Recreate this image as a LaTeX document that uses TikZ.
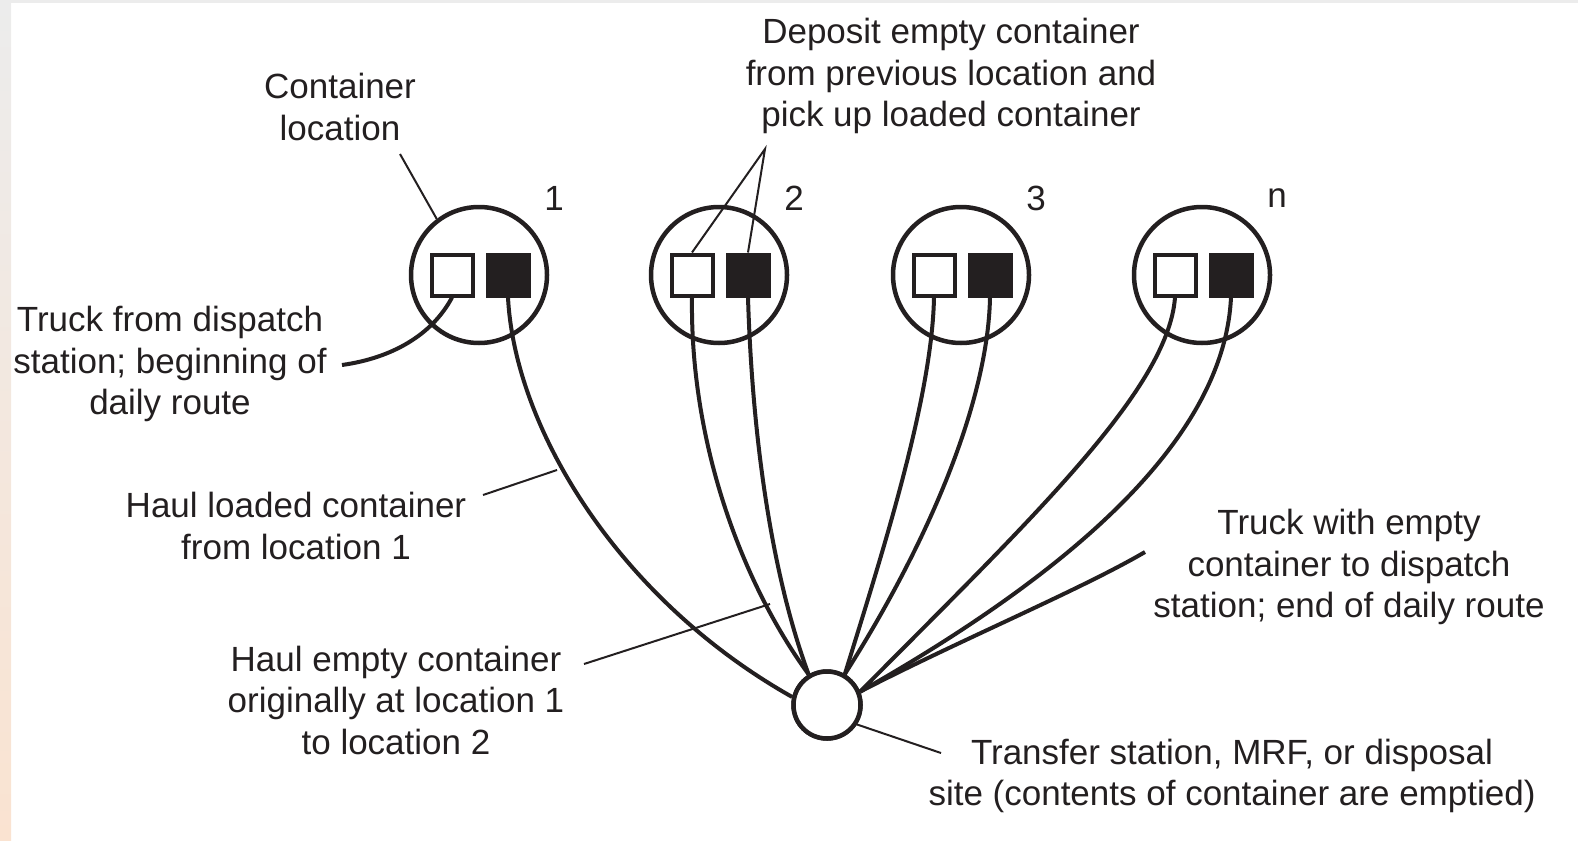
\documentclass[tikz,border=0pt]{standalone}
\usepackage{fontspec}
\setmainfont{Liberation Sans}
\definecolor{ink}{HTML}{231F20}
\definecolor{edgetop}{HTML}{ECECEC}
\definecolor{edgebot}{HTML}{FAE3D1}
\tikzset{
  lbl/.style={font=\fontsize{35}{41.5}\selectfont, align=center, inner sep=0pt, text=ink},
  loc/.style={circle, draw=ink, line width=4.5pt, minimum size=136pt, inner sep=0pt},
  site/.style={circle, draw=ink, fill=white, line width=4.5pt, minimum size=67pt, inner sep=0pt},
  emptybox/.style={rectangle, draw=ink, fill=white, line width=4pt, minimum size=41pt, inner sep=0pt},
  fullbox/.style={rectangle, draw=ink, fill=ink, line width=4pt, minimum size=41pt, inner sep=0pt},
  route/.style={draw=ink, line width=4pt},
  lead/.style={draw=ink, line width=2pt},
}
\begin{document}
\begin{tikzpicture}[x=1pt, y=-1pt]
\useasboundingbox (0,0) rectangle (1578,840);
% page edge tint
\shade[top color=edgetop, bottom color=edgebot] (0,0) rectangle (11,840);
\fill[edgetop] (0,0) rectangle (1578,3);

% container locations 1, 2, 3, n
\foreach \i/\x/\lab in {1/479/1, 2/719/2, 3/961/3, 4/1202/n} {
  \node[loc] (c\i) at (\x,275) {};
  \node[emptybox] (w\i) at (\x-27,275) {};
  \node[fullbox] (b\i) at (\x+29,275) {};
  \node[lbl] (n\i) at (\x+75,198) {\lab};
}

% transfer station / disposal site
\node[site] (tf) at (827,705) {};

% truck routes
\coordinate (start) at (342,365);
\coordinate (finish) at (1145,552);
\draw[route] (w1.south) .. controls (432,335) and (392,358) .. (start);
\draw[route] (b1.south) .. controls (515,430) and (620,600) .. (tf.167);
\draw[route] (w2.south) .. controls (690,440) and (740,580) .. (tf.121);
\draw[route] (b2.south) .. controls (752,430) and (770,570) .. (tf.121);
\draw[route] (w3.south) .. controls (932,400) and (880,560) .. (tf.60);
\draw[route] (b3.south) .. controls (988,400) and (930,540) .. (tf.60);
\draw[route] (w4.south) .. controls (1168,390) and (1030,520) .. (tf.22);
\draw[route] (b4.south) .. controls (1225,420) and (1110,550) .. (tf.22);
\draw[route] (tf.22) .. controls (960,640) and (1080,590) .. (finish);
\node[site] at (tf) {};

% labels
\node[lbl] (tcl) at (340,107) {Container\\location};
\node[lbl] (tdep) at (951,76) {Deposit empty container\\from previous location and\\pick up loaded container};
\node[lbl] (ttruck) at (170,364) {Truck from dispatch\\station; beginning of\\daily route};
\node[lbl] (tload) at (296,526) {Haul loaded container\\from location 1};
\node[lbl] (tempty) at (396,700) {Haul empty container\\originally at location 1\\to location 2};
\node[lbl] (tend) at (1349,567) {Truck with empty\\container to dispatch\\station; end of daily route};
\node[lbl] (tsite) at (1232,776) {Transfer station, MRF, or disposal\\site (contents of container are emptied)};

% leader lines
\coordinate (k1) at (400,154);
\coordinate (k2) at (765,149);
\coordinate (k3a) at (483,495);
\coordinate (k3b) at (557,470);
\coordinate (k4a) at (584,664);
\coordinate (k4b) at (770,604);
\coordinate (k5) at (941,753);
\draw[lead] (k1) -- (c1.127);
\draw[lead] (w2.north) -- (k2) -- (b2.north);
\draw[lead] (k3a) -- (k3b);
\draw[lead] (k4a) -- (k4b);
\draw[lead] (tf.-33) -- (k5);
\end{tikzpicture}
\end{document}
